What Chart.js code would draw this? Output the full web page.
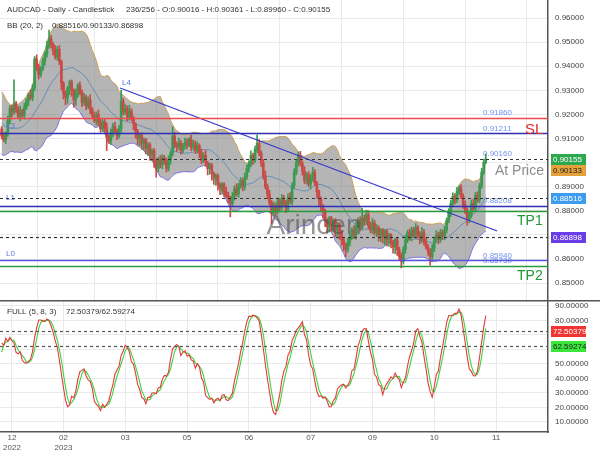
<!DOCTYPE html>
<html>
<head>
<meta charset="utf-8">
<script src="https://cdn.jsdelivr.net/npm/chart.js@4.4.0/dist/chart.umd.min.js"></script>
<style>
    html, body { margin: 0; padding: 0; background: #fff; }
    #wrap { position: relative; width: 600px; height: 450px; }
    .pane { position: absolute; left: 0; }
</style>
</head>
<body>
<div id="wrap">
    <canvas id="priceChart" class="pane" style="top:0" width="600" height="300"></canvas>
    <canvas id="stochChart" class="pane" style="top:300px" width="600" height="150"></canvas>
</div>
<script>
// closes before the first visible bar (only used for the bands / oscillator warm-up)
const preCloses = [0.9230, 0.9255, 0.9270, 0.9250, 0.9265, 0.9240, 0.9210, 0.9225, 0.9190, 0.9160,
    0.9130, 0.9095, 0.9080, 0.9100, 0.9090, 0.9115, 0.9105, 0.9130, 0.9120, 0.9140];

// daily closes, bar 1 .. 236
const closes = [
    0.9110, 0.9095, 0.9120, 0.9175, 0.9225, 0.9210, 0.9245, 0.9220, 0.9190, 0.9215, 0.9195, 0.9230, 0.9255, 0.9280, 0.9270, 0.9310, 0.9430, 0.9395, 0.9365, 0.9390,
    0.9420, 0.9450, 0.9485, 0.9515, 0.9490, 0.9465, 0.9440, 0.9470, 0.9420, 0.9330, 0.9290, 0.9270, 0.9310, 0.9335, 0.9300, 0.9260, 0.9285, 0.9320, 0.9290, 0.9250,
    0.9270, 0.9235, 0.9260, 0.9220, 0.9195, 0.9175, 0.9200, 0.9165, 0.9140, 0.9170, 0.9145, 0.9105, 0.9090, 0.9125, 0.9150, 0.9130, 0.9110, 0.9140, 0.9255, 0.9210,
    0.9225, 0.9190, 0.9215, 0.9185, 0.9160, 0.9130, 0.9100, 0.9115, 0.9080, 0.9095, 0.9060, 0.9075, 0.9035, 0.9050, 0.9000, 0.8975, 0.9010, 0.8990, 0.9020, 0.9005,
    0.8975, 0.9010, 0.9040, 0.9110, 0.9075, 0.9065, 0.9080, 0.9050, 0.9070, 0.9085, 0.9075, 0.9095, 0.9065, 0.9080, 0.9050, 0.9070, 0.9040, 0.9010, 0.9030, 0.9000,
    0.8975, 0.8990, 0.8955, 0.8935, 0.8945, 0.8910, 0.8895, 0.8910, 0.8880, 0.8865, 0.8850, 0.8830, 0.8860, 0.8890, 0.8870, 0.8905, 0.8925, 0.8900, 0.8940, 0.8975,
    0.8995, 0.9030, 0.9010, 0.9055, 0.9080, 0.9040, 0.9000, 0.8945, 0.8900, 0.8870, 0.8835, 0.8790, 0.8820, 0.8800, 0.8840, 0.8815, 0.8850, 0.8835, 0.8810, 0.8855,
    0.8840, 0.8905, 0.8960, 0.9000, 0.9030, 0.8995, 0.8965, 0.8925, 0.8950, 0.8910, 0.8935, 0.8960, 0.8915, 0.8880, 0.8850, 0.8820, 0.8800, 0.8760, 0.8735, 0.8770,
    0.8740, 0.8760, 0.8720, 0.8745, 0.8710, 0.8680, 0.8660, 0.8640, 0.8670, 0.8690, 0.8720, 0.8700, 0.8740, 0.8760, 0.8730, 0.8770, 0.8755, 0.8785, 0.8740, 0.8720,
    0.8750, 0.8710, 0.8730, 0.8700, 0.8720, 0.8690, 0.8715, 0.8680, 0.8700, 0.8670, 0.8650, 0.8680, 0.8640, 0.8610, 0.8590, 0.8640, 0.8680, 0.8710, 0.8690, 0.8720,
    0.8700, 0.8730, 0.8700, 0.8680, 0.8710, 0.8670, 0.8650, 0.8630, 0.8610, 0.8645, 0.8680, 0.8700, 0.8680, 0.8710, 0.8695, 0.8720, 0.8760, 0.8790, 0.8830, 0.8860,
    0.8845, 0.8880, 0.8895, 0.8860, 0.8825, 0.8800, 0.8760, 0.8785, 0.8830, 0.8810, 0.8865, 0.8845, 0.8905, 0.8960, 0.90016, 0.90155
];

// wick lengths above / below the body, in pips
const wickUp = [
    10, 14, 8, 18, 12, 15, 98, 9, 13, 20, 7, 16, 11, 9, 22, 14, 10, 17, 12, 8,
    15, 11, 19, 35, 13, 9, 21, 12, 16, 6, 7, 8, 6, 7, 8, 6, 20, 9, 15, 12,
    17, 10, 13, 22, 9, 14, 11, 19, 16, 8, 12, 20, 10, 15, 13, 18, 9, 14, 45, 12,
    16, 11, 23, 9, 7, 6, 8, 6, 9, 7, 6, 8, 7, 6, 9, 16, 12, 20, 14, 10,
    13, 18, 9, 38, 15, 11, 22, 12, 10, 17, 14, 9, 19, 13, 11, 16, 8, 15, 12, 20,
    6, 8, 7, 6, 8, 7, 6, 8, 7, 18, 12, 10, 16, 14, 22, 9, 13, 11, 17, 15,
    12, 19, 10, 14, 35, 16, 9, 13, 20, 11, 15, 8, 17, 12, 14, 10, 18, 13, 9, 16,
    21, 11, 14, 10, 14, 17, 12, 19, 9, 13, 15, 20, 11, 7, 6, 8, 6, 7, 8, 6,
    7, 6, 8, 7, 6, 8, 7, 6, 16, 12, 9, 18, 13, 11, 15, 40, 12, 17, 10, 14,
    19, 11, 13, 8, 6, 7, 6, 8, 7, 6, 8, 7, 6, 9, 16, 12, 18, 10, 15, 13,
    11, 17, 9, 14, 20, 12, 16, 10, 13, 15, 8, 18, 12, 14, 11, 16, 10, 19, 13, 15,
    12, 17, 10, 14, 11, 16, 13, 9, 15, 18, 12, 14, 10, 16, 13, 20.6
];
const wickDown = [
    12, 9, 16, 11, 14, 20, 10, 13, 8, 17, 12, 15, 10, 19, 9, 14, 11, 13, 18, 10,
    9, 16, 12, 10, 14, 18, 11, 15, 13, 28, 26, 30, 24, 28, 25, 30, 22, 13, 9, 18,
    12, 15, 10, 17, 13, 9, 20, 11, 14, 12, 16, 55, 10, 13, 18, 11, 15, 9, 14, 12,
    10, 17, 13, 11, 24, 28, 26, 30, 25, 28, 24, 30, 26, 28, 20, 35, 13, 11, 16, 12,
    14, 10, 17, 12, 13, 19, 11, 15, 10, 14, 18, 9, 16, 12, 13, 11, 20, 14, 10, 15,
    26, 24, 28, 25, 30, 24, 28, 26, 22, 10, 15, 55, 12, 16, 9, 14, 11, 17, 13, 10,
    15, 12, 18, 10, 13, 11, 16, 14, 9, 20, 12, 45, 10, 17, 13, 15, 11, 14, 18, 12,
    10, 16, 13, 11, 15, 9, 17, 12, 14, 10, 18, 13, 11, 26, 28, 24, 30, 26, 28, 24,
    26, 24, 28, 25, 28, 24, 26, 30, 12, 15, 9, 14, 18, 11, 13, 10, 16, 12, 14, 11,
    15, 10, 17, 26, 28, 24, 30, 26, 28, 24, 26, 28, 25, 14, 27, 11, 16, 12, 13, 15,
    10, 14, 12, 16, 11, 13, 9, 15, 35, 12, 14, 10, 17, 11, 13, 15, 12, 10, 14, 12,
    16, 11, 13, 10, 15, 12, 20, 9, 14, 11, 13, 10, 12, 11, 9, 5.6
];

const tickIdx = [5, 30, 60, 90, 120, 150, 180, 210, 240];
const tickLabels = [['12', '2022'], ['02', '2023'], '03', '05', '06', '07', '09', '10', '11'];
const priceTicks = [0.85, 0.86, 0.87, 0.88, 0.89, 0.90, 0.91, 0.92, 0.93, 0.94, 0.95, 0.96];
const stochTicks = [10, 20, 30, 40, 50, 60, 70, 80, 90];

// trend line L4 (bar index, price)
const trendX = [57.5, 240.5];
const trendY = [0.93095, 0.87162];

// horizontal levels
const levelPrices = [0.91860, 0.91211, 0.90160, 0.88516, 0.88208, 0.88000, 0.86898, 0.85940, 0.85730];
const levelTexts = ['0.91860', '0.91211', '0.90160', '', '0.88208', '', '', '0.85940', '0.85730'];

const bbText = '0.88516/0.90133/0.86898';
const badgeValues = [0.90155, 0.90133, 0.88516, 0.86898];
const badgeTexts = ['0.90155', '0.90133', '0.88516', '0.86898'];
const stochBadgeValues = [72.50379, 62.59274];
const stochBadgeTexts = ['72.50379', '62.59274'];

const FONT = '"Liberation Sans", Arial, sans-serif';
Chart.defaults.font.family = FONT;
Chart.defaults.font.size = 8;
Chart.defaults.color = '#444';

const levelStyles = [
    { color: '#ee4a4a', width: 1.3, dash: [] },
    { color: '#2f2fb4', width: 1.3, dash: [] },
    { color: '#333', width: 1.2, dash: [3, 3] },
    { color: '#333', width: 1.2, dash: [3, 3] },
    { color: '#2f2fb4', width: 1.3, dash: [] },
    { color: '#2c9b3c', width: 1.3, dash: [] },
    { color: '#333', width: 1.2, dash: [3, 3] },
    { color: '#5555dd', width: 1.3, dash: [] },
    { color: '#2c9b3c', width: 1.3, dash: [] }
];
const badgeColors = [['#2ea84f', '#fff'], ['#e6a23a', '#222'], ['#3d9cf0', '#fff'], ['#6a3ee6', '#fff']];
const stochBadgeColors = [['#f03434', '#fff'], ['#3be63b', '#222']];

// candles: a bar opens where the previous one closed
const opens = closes.map((c, i) => i === 0 ? preCloses[preCloses.length - 1] : closes[i - 1]);
const highs = closes.map((c, i) => Math.max(opens[i], c) + wickUp[i] / 10000);
const lows = closes.map((c, i) => Math.min(opens[i], c) - wickDown[i] / 10000);
const candleColors = closes.map((c, i) => c >= opens[i] ? '#3c9a50' : '#c94a46');

// Bollinger (20, 2)
const allC = preCloses.concat(closes);
const bbUp = [], bbMid = [], bbLow = [];
closes.forEach((c, i) => {
    const j = i + preCloses.length;
    const win = allC.slice(j - 19, j + 1);
    const m = win.reduce((a, b) => a + b, 0) / 20;
    const sd = Math.sqrt(win.reduce((a, b) => a + (b - m) * (b - m), 0) / 20);
    bbMid.push({ x: i, y: m });
    bbUp.push({ x: i, y: m + 2 * sd });
    bbLow.push({ x: i, y: m - 2 * sd });
});

// Full stochastic (5, 8, 3)
const allH = preCloses.concat(highs);
const allL = preCloses.concat(lows);
const rawK = allC.map((c, j) => {
    if (j < 4) return null;
    const hh = Math.max(...allH.slice(j - 4, j + 1));
    const ll = Math.min(...allL.slice(j - 4, j + 1));
    return hh === ll ? 50 : 100 * (c - ll) / (hh - ll);
});
function sma(arr, n) {
    return arr.map((v, j) => {
        if (j < n - 1) return null;
        const w = arr.slice(j - n + 1, j + 1);
        if (w.some(x => x === null)) return null;
        return w.reduce((a, b) => a + b, 0) / n;
    });
}
const kLine = sma(rawK, 8);
const dLine = sma(kLine, 3);
const kPts = closes.map((c, i) => ({ x: i, y: kLine[i + preCloses.length] }));
const dPts = closes.map((c, i) => ({ x: i, y: dLine[i + preCloses.length] }));

function badge(ctx, py, text, colors) {
    ctx.fillStyle = colors[0];
    ctx.fillRect(551, Math.round(py) - 5, 35, 11);
    ctx.fillStyle = colors[1];
    ctx.font = '8px ' + FONT;
    ctx.textAlign = 'left';
    ctx.textBaseline = 'middle';
    ctx.fillText(text, 553, Math.round(py) + 0.5);
}

// no automatic label padding, the plot must fill the pane edge to edge
function noPad(s) {
    s.paddingTop = 0;
    s.paddingBottom = 0;
    s.paddingLeft = 0;
    s.paddingRight = 0;
}

const priceOverlay = {
    id: 'priceOverlay',
    afterDatasetsDraw(chart) {
        const { ctx, chartArea: a, scales: { y } } = chart;
        ctx.save();
        ctx.fillStyle = 'rgba(80,80,80,0.6)';
        ctx.font = '28px ' + FONT;
        ctx.textAlign = 'center';
        ctx.textBaseline = 'middle';
        ctx.fillText('Arincen', 314, 226);

        ctx.font = '8px ' + FONT;
        ctx.textAlign = 'left';
        ctx.textBaseline = 'bottom';
        ctx.fillStyle = '#6f8ff0';
        levelPrices.forEach((p, k) => {
            if (levelTexts[k]) ctx.fillText(levelTexts[k], 483, y.getPixelForValue(p) - 1);
        });
        ctx.fillStyle = '#5a78e0';
        ctx.textBaseline = 'middle';
        ctx.fillText('L3', 6, y.getPixelForValue(0.91211) - 8);
        ctx.fillText('L1', 6, y.getPixelForValue(0.88208) - 8);
        ctx.fillText('L0', 6, y.getPixelForValue(0.85940) - 7);
        ctx.fillText('L4', 122, y.getPixelForValue(trendY[0]) - 5);

        levelPrices.forEach((p, k) => {
            const s = levelStyles[k];
            const py = Math.round(y.getPixelForValue(p)) + 0.5;
            ctx.strokeStyle = s.color;
            ctx.lineWidth = s.width;
            ctx.setLineDash(s.dash);
            ctx.beginPath();
            ctx.moveTo(a.left, py);
            ctx.lineTo(a.right, py);
            ctx.stroke();
        });
        ctx.setLineDash([]);

        ctx.textAlign = 'left';
        ctx.textBaseline = 'middle';
        ctx.font = '15px ' + FONT;
        ctx.fillStyle = '#e02a2a';
        ctx.fillText('SL', 525, y.getPixelForValue(0.91211) - 4);
        ctx.font = '14px ' + FONT;
        ctx.fillStyle = '#8c8c8c';
        ctx.fillText('At Price', 495, y.getPixelForValue(0.90160) + 12);
        ctx.fillStyle = '#1f9a37';
        ctx.fillText('TP1', 517, y.getPixelForValue(0.88000) + 10);
        ctx.fillText('TP2', 517, y.getPixelForValue(0.85730) + 11);
        ctx.restore();
    },
    afterDraw(chart) {
        const { ctx, scales: { y } } = chart;
        ctx.save();
        ctx.fillStyle = '#333';
        ctx.font = '8px ' + FONT;
        ctx.textAlign = 'left';
        ctx.textBaseline = 'middle';
        ctx.fillText('AUDCAD - Daily - Candlestick', 7, 10);
        ctx.fillText('236/256 - O:0.90016 - H:0.90361 - L:0.89960 - C:0.90155', 126, 10);
        ctx.fillText('BB (20, 2)', 7, 26);
        ctx.fillText(bbText, 52, 26);
        // close and upper band badges would collide, the second one is pushed below
        let prev = -100;
        badgeValues.forEach((v, k) => {
            let py = y.getPixelForValue(v);
            if (py < prev + 11) py = prev + 11;
            badge(ctx, py, badgeTexts[k], badgeColors[k]);
            prev = py;
        });
        ctx.restore();
    }
};

const stochOverlay = {
    id: 'stochOverlay',
    afterDatasetsDraw(chart) {
        const { ctx, chartArea: a, scales: { y } } = chart;
        ctx.save();
        ctx.strokeStyle = '#555';
        ctx.lineWidth = 1.2;
        ctx.setLineDash([3, 3]);
        stochBadgeValues.forEach(v => {
            const py = Math.round(y.getPixelForValue(v)) + 0.5;
            ctx.beginPath();
            ctx.moveTo(a.left, py);
            ctx.lineTo(a.right, py);
            ctx.stroke();
        });
        ctx.restore();
    },
    afterDraw(chart) {
        const { ctx, scales: { y } } = chart;
        ctx.save();
        ctx.strokeStyle = '#555';
        ctx.lineWidth = 1.5;
        ctx.beginPath();
        ctx.moveTo(0, 0.75);
        ctx.lineTo(600, 0.75);
        ctx.stroke();
        ctx.fillStyle = '#333';
        ctx.font = '8px ' + FONT;
        ctx.textAlign = 'left';
        ctx.textBaseline = 'middle';
        ctx.fillText('FULL (5, 8, 3)', 7, 12);
        ctx.fillText('72.50379/62.59274', 66, 12);
        stochBadgeValues.forEach((v, k) => badge(ctx, y.getPixelForValue(v), stochBadgeTexts[k], stochBadgeColors[k]));
        ctx.restore();
    }
};

const xCommon = {
    type: 'linear',
    min: -0.8,
    max: 265.2,
    offset: false,
    afterBuildTicks: s => { s.ticks = tickIdx.map(v => ({ value: v })); },
    grid: { color: '#e9e9e9', drawTicks: false }
};

const priceConfig = {
    type: 'bar',
    data: {
        datasets: [{
                label: 'wick',
                data: closes.map((c, i) => ({ x: i, y: [lows[i], highs[i]] })),
                backgroundColor: candleColors,
                barThickness: 1,
                grouped: false,
                order: 1
            },
            {
                label: 'body',
                data: closes.map((c, i) => ({ x: i, y: [opens[i], c] })),
                backgroundColor: candleColors,
                barThickness: 2,
                minBarLength: 1,
                grouped: false,
                order: 0
            },
            {
                type: 'line',
                label: 'upper',
                data: bbUp,
                borderColor: '#caa052',
                borderWidth: 1,
                pointRadius: 0,
                fill: false,
                order: 3
            },
            {
                type: 'line',
                label: 'lower',
                data: bbLow,
                borderColor: '#7a70e2',
                borderWidth: 1,
                pointRadius: 0,
                fill: '-1',
                backgroundColor: 'rgba(120,120,120,0.55)',
                order: 3
            },
            {
                type: 'line',
                label: 'mid',
                data: bbMid,
                borderColor: '#4f84b4',
                borderWidth: 0.8,
                pointRadius: 0,
                order: 2
            },
            {
                type: 'line',
                label: 'L4',
                data: trendX.map((x, k) => ({ x: x, y: trendY[k] })),
                borderColor: '#3636cc',
                borderWidth: 1.2,
                pointRadius: 0,
                order: -1
            }
        ]
    },
    options: {
        responsive: false,
        animation: false,
        layout: { padding: 0 },
        plugins: { legend: { display: false }, tooltip: { enabled: false } },
        scales: {
            x: Object.assign({}, xCommon, {
                ticks: { display: false },
                border: { display: false },
                afterFit: s => { s.height = 0; noPad(s); }
            }),
            y: {
                type: 'linear',
                position: 'right',
                min: 0.8430,
                max: 0.96747,
                afterBuildTicks: s => { s.ticks = priceTicks.map(v => ({ value: v })); },
                afterFit: s => { s.width = 52; noPad(s); },
                grid: { color: '#e9e9e9', drawTicks: false },
                border: { color: '#555', width: 1.5 },
                ticks: { padding: 7, color: '#444', callback: v => v.toFixed(5) }
            }
        }
    },
    plugins: [priceOverlay]
};

const stochConfig = {
    type: 'line',
    data: {
        datasets: [{
                label: '%K',
                data: kPts,
                borderColor: '#e43a3a',
                borderWidth: 1.1,
                pointRadius: 0,
                order: 0
            },
            {
                label: '%D',
                data: dPts,
                borderColor: '#3fd23f',
                borderWidth: 1.1,
                pointRadius: 0,
                order: 1
            }
        ]
    },
    options: {
        responsive: false,
        animation: false,
        layout: { padding: 0 },
        plugins: { legend: { display: false }, tooltip: { enabled: false } },
        scales: {
            x: Object.assign({}, xCommon, {
                border: { color: '#555', width: 1.5 },
                ticks: {
                    padding: 1,
                    maxRotation: 0,
                    autoSkip: false,
                    color: '#555',
                    font: { size: 8, lineHeight: 1.2 },
                    callback: (v) => tickLabels[tickIdx.indexOf(v)]
                },
                afterFit: s => { s.height = 18; noPad(s); }
            }),
            y: {
                type: 'linear',
                position: 'right',
                min: 3.1,
                max: 94.1,
                afterBuildTicks: s => { s.ticks = stochTicks.map(v => ({ value: v })); },
                afterFit: s => { s.width = 52; noPad(s); },
                grid: { color: '#e9e9e9', drawTicks: false },
                border: { color: '#555', width: 1.5 },
                ticks: { padding: 7, color: '#444', callback: v => (v === 60 || v === 70) ? '' : v.toFixed(5) }
            }
        }
    },
    plugins: [stochOverlay]
};

var priceChart = new Chart(document.getElementById('priceChart'), priceConfig);
var stochChart = new Chart(document.getElementById('stochChart'), stochConfig);
</script>
</body>
</html>
